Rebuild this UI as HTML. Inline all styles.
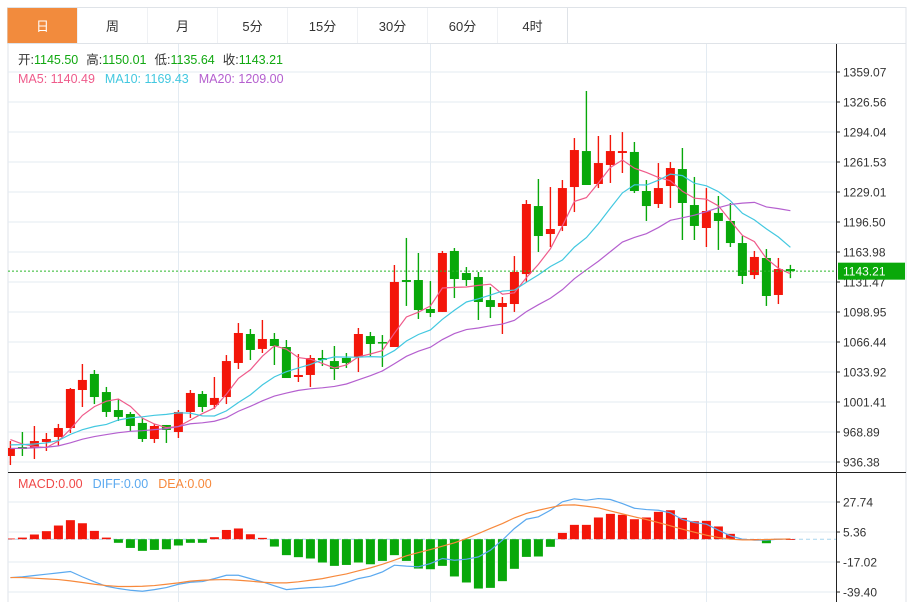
<!DOCTYPE html>
<html><head><meta charset="utf-8"><style>
html,body{margin:0;padding:0;background:#fff;}
svg{display:block;font-family:"Liberation Sans","Noto Sans CJK SC",sans-serif;}
</style></head><body>
<svg id="chart" width="913" height="602" viewBox="0 0 913 602" xmlns="http://www.w3.org/2000/svg">
<defs><clipPath id="plotclip"><rect x="8" y="44" width="828" height="558"/></clipPath></defs>
<rect x="0" y="0" width="913" height="602" fill="#fff"/>
<g id="tabs"></g>
<g id="grid"></g>
<g id="main" clip-path="url(#plotclip)"></g>
<g id="macd" clip-path="url(#plotclip)"></g>
<g id="axis"></g>
<g id="legend">
  <text x="18" y="64" font-size="12.5" fill="#333">开:<tspan fill="#11a811">1145.50</tspan><tspan dx="8">高:</tspan><tspan fill="#11a811">1150.01</tspan><tspan dx="8">低:</tspan><tspan fill="#11a811">1135.64</tspan><tspan dx="8">收:</tspan><tspan fill="#11a811">1143.21</tspan></text>
  <text x="18" y="83" font-size="12.5"><tspan fill="#ef5b8b">MA5: 1140.49</tspan><tspan dx="10" fill="#43c8e0">MA10: 1169.43</tspan><tspan dx="10" fill="#b560cf">MA20: 1209.00</tspan></text>
  <text x="18" y="488" font-size="12.5"><tspan fill="#f04848">MACD:0.00</tspan><tspan dx="10" fill="#5ba9ef">DIFF:0.00</tspan><tspan dx="10" fill="#f7893c">DEA:0.00</tspan></text>
</g>
</svg>
<script>
const opens=[942.9,952.6,951.6,958.1,963.5,973.2,1014.4,1031.8,1012.2,992.7,988.4,978.7,961.3,976.5,968.9,990.6,1010.1,998.2,1006.8,1043.7,1075.1,1058.9,1069.7,1061.0,1028.5,1030.7,1049.1,1045.8,1049.1,1050.2,1072.9,1066.4,1061.0,1133.6,1133.6,1102.2,1099.0,1165.1,1141.2,1136.9,1111.9,1104.4,1107.6,1140.1,1213.8,1183.5,1192.2,1234.4,1273.4,1237.7,1258.3,1271.3,1272.4,1230.1,1216.0,1235.5,1253.9,1214.9,1190.0,1206.3,1197.6,1173.7,1139.0,1157.5,1117.4,1145.50];
const highs=[959.1,968.9,975.4,967.8,977.6,1016.6,1042.6,1036.1,1017.7,1004.7,990.6,984.1,977.6,976.5,992.7,1014.4,1013.3,1028.5,1052.3,1087.0,1080.5,1090.3,1076.2,1068.6,1053.4,1052.3,1057.8,1062.1,1054.5,1081.6,1077.3,1074.0,1149.9,1179.2,1162.9,1132.5,1165.1,1168.3,1147.7,1142.3,1126.0,1115.2,1159.6,1220.3,1243.1,1234.4,1242.0,1287.5,1338.5,1289.7,1290.8,1294.0,1283.2,1242.0,1260.4,1261.5,1276.7,1245.3,1233.3,1224.7,1217.1,1181.3,1165.1,1167.2,1157.5,1150.01];
const lows=[933.1,942.9,939.6,948.3,953.7,967.8,996.0,999.2,985.2,980.8,970.0,958.1,957.0,957.0,962.4,984.1,990.6,993.8,999.2,1037.2,1046.9,1054.5,1041.5,1027.4,1023.1,1017.7,1040.4,1025.3,1038.3,1033.9,1051.2,1039.4,1061.0,1105.5,1091.4,1093.5,1099.0,1114.1,1127.1,1090.3,1092.4,1075.1,1099.0,1131.5,1164.0,1169.4,1186.7,1207.3,1236.6,1233.3,1238.8,1249.6,1227.9,1197.6,1211.7,1211.7,1177.0,1177.0,1169.4,1166.2,1169.4,1129.3,1134.7,1105.5,1107.6,1135.64];
const closes=[951.6,950.5,959.1,961.3,973.2,1015.5,1025.3,1006.8,990.6,985.2,975.4,961.3,975.4,971.1,990.6,1011.2,996.0,1005.8,1045.8,1076.2,1057.8,1069.7,1062.1,1027.4,1030.7,1049.1,1046.9,1037.2,1043.7,1075.1,1064.3,1065.4,1131.5,1131.5,1101.1,1097.9,1162.9,1134.7,1133.6,1109.8,1104.4,1108.7,1142.3,1216.0,1181.3,1188.9,1233.3,1274.5,1236.6,1260.4,1273.4,1273.4,1230.1,1213.8,1233.3,1255.0,1217.1,1192.2,1208.4,1197.6,1173.7,1138.0,1158.6,1116.3,1145.5,1143.21];
const priorCloses=[945,950,948,944,949,946,950,947,945,946,948,952,950,946,950,975,972,968,937];
const macdHist=[0.5,1.2,3.5,6.0,10.2,14.2,11.9,6.2,1.2,-2.7,-6.5,-8.7,-8.0,-7.5,-4.7,-2.7,-2.7,1.5,6.9,8.0,3.7,1.0,-5.5,-11.9,-13.4,-14.4,-17.4,-19.9,-19.2,-17.4,-18.7,-16.2,-11.9,-16.2,-21.9,-22.4,-19.9,-27.8,-32.3,-36.8,-36.3,-31.3,-22.1,-13.2,-12.9,-5.7,4.7,10.7,10.7,16.2,18.9,18.2,14.9,16.2,20.4,21.6,15.9,13.4,13.7,9.5,4.0,0.2,0.1,-3.0,0.3,0];
const diffVals=[-28.6,-28.1,-27.1,-26.1,-25.1,-24.1,-28.1,-31.8,-35.1,-36.8,-38.1,-38.8,-37.6,-36.1,-33.6,-32.1,-31.6,-29.4,-26.9,-26.9,-29.4,-31.8,-34.8,-37.6,-36.8,-36.1,-35.8,-34.8,-32.3,-29.4,-27.6,-24.4,-19.4,-20.1,-20.6,-18.2,-14.4,-15.7,-14.9,-13.2,-8.2,-0.7,8.0,14.9,16.7,21.6,27.9,30.1,29.1,30.3,29.6,26.6,23.1,22.1,21.6,19.7,14.7,12.4,11.2,6.7,2.5,0,-0.7,-0.7,0,0.2];
const deaVals=[-28.6,-28.6,-29.1,-29.6,-30.1,-31.1,-32.3,-33.6,-34.6,-35.3,-35.3,-35.1,-34.6,-33.6,-32.6,-31.3,-30.6,-30.3,-30.1,-30.6,-31.3,-32.1,-32.6,-32.6,-31.8,-30.6,-29.4,-27.6,-25.9,-23.6,-21.4,-18.7,-15.7,-12.4,-10.0,-7.7,-5.2,-2.7,0.5,4.2,8.0,11.7,15.9,19.2,21.6,23.6,25.4,25.6,24.6,23.4,21.1,18.9,16.7,14.7,12.4,10.0,7.5,5.2,3.0,1.2,0,-0.5,-0.5,-0.2,0,0.2];
const priceTicks=[1359.07,1326.56,1294.04,1261.53,1229.01,1196.50,1163.98,1131.47,1098.95,1066.44,1033.92,1001.41,968.89,936.38];
const macdTicks=[27.74,5.36,-17.02,-39.40];
const tabLabels=["日","周","月","5分","15分","30分","60分","4时"];
const lastPrice=1143.21;

const NS="http://www.w3.org/2000/svg";
function mk(tag,attrs,parent){const e=document.createElementNS(NS,tag);for(const k in attrs)e.setAttribute(k,attrs[k]);parent.appendChild(e);return e;}
const xS=i=>10.4+12*i;
const yP=p=>72+(1359.07-p)*30/32.515;
const yM=v=>539.2-v*30/22.38;
const RED="#f3160a",GREEN="#08a80a";

// tabs
const tabs=document.getElementById('tabs');
mk('rect',{x:7.5,y:7.5,width:898.5,height:36,fill:'#fff',stroke:'#dfe3e8'},tabs);
tabLabels.forEach((t,i)=>{
  const g=mk('g',{},tabs);
  
  
  const x=7.5+70*i;
  mk('rect',{x:x,y:8,width:70,height:35,fill:i===0?'#f28b3d':'#fff'},g);
  mk('line',{x1:x+70,y1:8,x2:x+70,y2:43,stroke:'#dfe3e8'},g);
  const tx=mk('text',{x:x+35,y:31,'font-size':13,'text-anchor':'middle',fill:i===0?'#fff':'#333'},g);
  tx.textContent=t;
});

// grid
const grid=document.getElementById('grid');
mk('line',{x1:8,y1:44,x2:8,y2:602,stroke:'#dfe3e8'},grid);
mk('line',{x1:906,y1:44,x2:906,y2:602,stroke:'#dfe3e8'},grid);
priceTicks.forEach(p=>{mk('line',{x1:8,y1:yP(p),x2:836,y2:yP(p),stroke:'#e3ebf2'},grid);});
macdTicks.forEach(v=>{mk('line',{x1:8,y1:yM(v),x2:836,y2:yM(v),stroke:'#e3ebf2'},grid);});
[178.5,430.5,706.5].forEach(x=>{mk('line',{x1:x,y1:44,x2:x,y2:602,stroke:'#e3ebf2'},grid);});
mk('line',{x1:8,y1:472.5,x2:906,y2:472.5,stroke:'#222'},grid);

// candles
const main=document.getElementById('main');
closes.forEach((c,i)=>{
  const o=opens[i],up=c>=o,col=up?RED:GREEN,x=xS(i);
  const g=mk('g',{},main);
  
  
  mk('line',{x1:x,y1:yP(highs[i]),x2:x,y2:yP(lows[i]),stroke:col,'stroke-width':1.4},g);
  const t=yP(Math.max(o,c)),b=yP(Math.min(o,c));
  mk('rect',{x:x-4.5,y:t,width:9,height:Math.max(1.5,b-t),fill:col},g);
});
// moving averages
const all=priorCloses.concat(closes);
function ma(n){return closes.map((_,i)=>{let s=0;const k=i+priorCloses.length;for(let j=k-n+1;j<=k;j++)s+=all[j];return s/n;});}
[[5,'#ef5b8b'],[10,'#43c8e0'],[20,'#b560cf']].forEach(([n,col])=>{
  const vals=ma(n);
  const pl=mk('polyline',{points:vals.map((v,i)=>xS(i)+','+yP(v)).join(' '),fill:'none',stroke:col,'stroke-width':1.2},main);
  
  
});
const lp=mk('line',{x1:8,y1:yP(lastPrice),x2:836,y2:yP(lastPrice),stroke:'#2bb82b','stroke-dasharray':'2,2','stroke-width':1},main);



// macd
const macd=document.getElementById('macd');
const zl=mk('line',{x1:8,y1:yM(0),x2:836,y2:yM(0),stroke:'#a9d6ee','stroke-dasharray':'4,3'},macd);


macdHist.forEach((v,i)=>{
  const y0=yM(0),y1=yM(v);
  const r=mk('rect',{x:xS(i)-4.5,y:Math.min(y0,y1),width:9,height:Math.max(0.8,Math.abs(y1-y0)),fill:v>=0?RED:GREEN},macd);
  
  
});
[[diffVals,'#5ba9ef','diff-line'],[deaVals,'#f7893c','dea-line']].forEach(([arr,col,nm])=>{
  const pl=mk('polyline',{points:arr.map((v,i)=>xS(i)+','+yM(v)).join(' '),fill:'none',stroke:col,'stroke-width':1.2},macd);
  
  
});

// axis
const axis=document.getElementById('axis');
mk('line',{x1:836.5,y1:44,x2:836.5,y2:602,stroke:'#222'},axis);
priceTicks.forEach(p=>{
  const y=yP(p);
  mk('line',{x1:836,y1:y,x2:840,y2:y,stroke:'#222'},axis);
  const t=mk('text',{x:843,y:y+4.5,'font-size':12,fill:'#333'},axis);
  t.textContent=p.toFixed(2);
  
  
});
macdTicks.forEach(v=>{
  const y=yM(v);
  mk('line',{x1:836,y1:y,x2:840,y2:y,stroke:'#222'},axis);
  const t=mk('text',{x:843,y:y+4.5,'font-size':12,fill:'#333'},axis);
  t.textContent=v.toFixed(2);
  
  
});
const ly=yP(lastPrice);
const lb=mk('rect',{x:838,y:ly-8.5,width:67,height:17,fill:'#0aa80a'},axis);


const lt=mk('text',{x:843,y:ly+4.5,'font-size':12,fill:'#fff'},axis);
lt.textContent=lastPrice.toFixed(2);


</script>
</body></html>
